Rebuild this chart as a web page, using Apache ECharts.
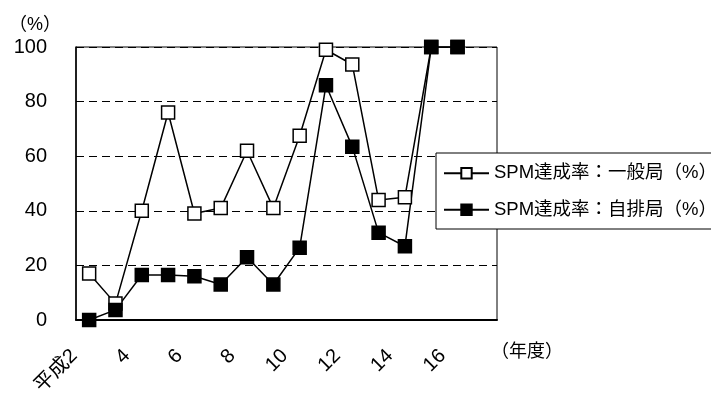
<!DOCTYPE html>
<html><head><meta charset="utf-8">
<script src="https://cdn.jsdelivr.net/npm/echarts@6/dist/echarts.min.js"></script>
<style>html,body{margin:0;padding:0;background:#fff}#c{width:711px;height:395px}</style>
</head><body><div id="c"></div>
<script>
const categories = ['平成2','3','4','5','6','7','8','9','10','11','12','13','14','15','16','17'];
const general = [17, 6, 40, 76, 39, 41, 62, 41, 67.5, 99, 93.6, 44, 45, 100, 100, null];
const roadside = [0, 3.7, 16.5, 16.5, 16, 13, 23, 13, 26.5, 86, 63.5, 32, 27, 100, 100, null];
const yTicks = [0, 20, 40, 60, 80, 100];
const seriesNames = ['SPM達成率：一般局（%）', 'SPM達成率：自排局（%）'];
const FONT = '"Liberation Sans", "Noto Sans CJK JP", sans-serif';

const chart = echarts.init(document.getElementById('c'));
chart.setOption({
  animation: false,
  backgroundColor: '#fff',
  grid: {left: 76, top: 47, right: 214, bottom: 75, show: true, borderColor: '#000', borderWidth: 1,
         containLabel: false, outerBoundsMode: 'none'},
  xAxis: {
    type: 'category', data: categories, boundaryGap: true,
    axisLine: {lineStyle: {color: '#000', width: 2}},
    axisTick: {inside: true, length: 8, lineStyle: {color: '#000', width: 1}},
    axisLabel: {interval: 1, rotate: 45, margin: 18, padding: [0, 21, 0, 0], color: '#000', fontSize: 20, fontFamily: FONT}
  },
  yAxis: {
    type: 'value', min: 0, max: 100, interval: 20,
    axisLine: {show: true, lineStyle: {color: '#000', width: 1.5}},
    axisTick: {show: false},
    axisLabel: {margin: 29, color: '#000', fontSize: 20, fontFamily: FONT, formatter: v => yTicks.includes(v) ? String(v) : ''},
    splitLine: {show: true, lineStyle: {color: '#000', type: [8, 5], width: 1}}
  },
  legend: {
    orient: 'vertical', left: 436, top: 153,
    padding: [11, 30, 10, 7], itemGap: 18, itemWidth: 45, itemHeight: 13,
    borderColor: '#000', borderWidth: 1, backgroundColor: '#fff',
    textStyle: {color: '#000', fontSize: 18.5, fontFamily: FONT},
    data: seriesNames
  },
  graphic: [
    {type: 'text', left: 9, top: 16, style: {text: '（%）', fill: '#000', font: '18px ' + FONT}},
    {type: 'text', left: 491, top: 343, style: {text: '（年度）', fill: '#000', font: '18px ' + FONT}}
  ],
  series: [
    {name: seriesNames[0], type: 'line', data: general, symbol: 'rect', symbolSize: 13,
     lineStyle: {color: '#000', width: 1.5},
     itemStyle: {color: '#fff', borderColor: '#000', borderWidth: 1.5}},
    {name: seriesNames[1], type: 'line', data: roadside, symbol: 'rect', symbolSize: 13,
     lineStyle: {color: '#000', width: 1.5},
     itemStyle: {color: '#000', borderColor: '#000', borderWidth: 1.5}}
  ]
});
</script></body></html>
